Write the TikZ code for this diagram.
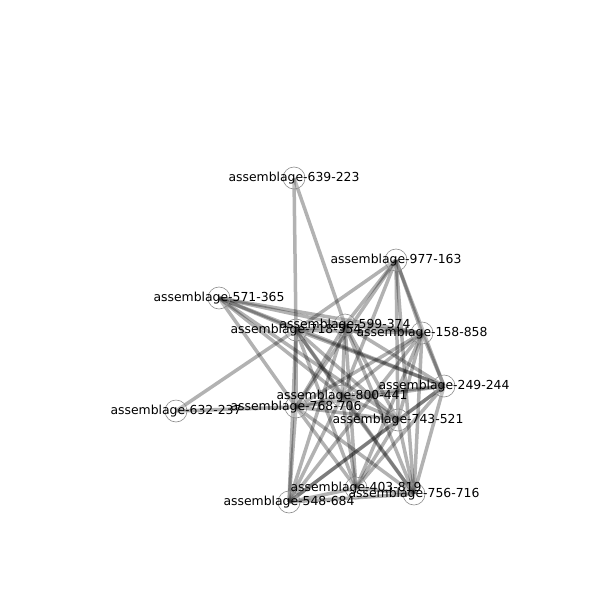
\documentclass[tikz,border=0pt]{standalone}
\usepackage{fontspec}
\setmainfont{DejaVu Sans}
\begin{document}
\begin{tikzpicture}[x=1pt,y=-1pt,
  nd/.style={circle,draw=black!45,fill=white,fill opacity=0.2,minimum size=22pt,inner sep=0pt,line width=0.6pt},
  lb/.style={font=\fontsize{12.4}{14}\selectfont,inner sep=0pt,text=black},
  ed/.style={draw=black,line width=3.5pt,opacity=0.3}]
\useasboundingbox (0,0) rectangle (600,600);
\coordinate (A) at (294,178);
\coordinate (B) at (396,260);
\coordinate (C) at (219,298);
\coordinate (D) at (345,325);
\coordinate (E) at (296,330);
\coordinate (F) at (422,333);
\coordinate (G) at (444,386);
\coordinate (H) at (342,396);
\coordinate (I) at (176,411);
\coordinate (J) at (296,407);
\coordinate (K) at (398,420);
\coordinate (L) at (356,488);
\coordinate (M) at (414,494);
\coordinate (N) at (289,502);
\foreach \a/\b in {A/E,A/D,
  B/E,B/D,B/F,B/H,B/J,B/K,B/G,B/M,
  C/E,C/D,C/F,C/H,C/J,C/K,C/G,
  D/E,D/F,D/G,D/H,D/J,D/K,D/L,D/M,D/N,
  E/F,E/G,E/H,E/J,E/K,E/L,E/M,E/N,
  F/G,F/H,F/J,F/K,F/L,F/M,F/N,
  G/H,G/J,G/K,G/L,G/M,G/N,
  H/J,H/K,H/L,H/M,H/N,
  I/E,I/J,
  J/K,J/L,J/M,J/N,
  K/L,K/M,K/N,
  L/M,L/N,M/N}
  \draw[ed] (\a) -- (\b);
\foreach \n in {A,B,C,D,E,F,G,H,I,J,K,L,M,N}
  \node[nd] (c\n) at (\n) {};
\node[lb] (tA) at (A) {assemblage-639-223};
\node[lb] (tB) at (B) {assemblage-977-163};
\node[lb] (tC) at (C) {assemblage-571-365};
\node[lb] (tE) at (E) {assemblage-718-554};
\node[lb] (tD) at (D) {assemblage-599-374};
\node[lb] (tF) at (F) {assemblage-158-858};
\node[lb] (tG) at (G) {assemblage-249-244};
\node[lb] (tH) at (H) {assemblage-800-441};
\node[lb] (tI) at (I) {assemblage-632-237};
\node[lb] (tJ) at (J) {assemblage-768-706};
\node[lb] (tK) at (K) {assemblage-743-521};
\node[lb] (tL) at (L) {assemblage-403-819};
\node[lb] (tM) at (M) {assemblage-756-716};
\node[lb] (tN) at (N) {assemblage-548-684};
\end{tikzpicture}
\end{document}
